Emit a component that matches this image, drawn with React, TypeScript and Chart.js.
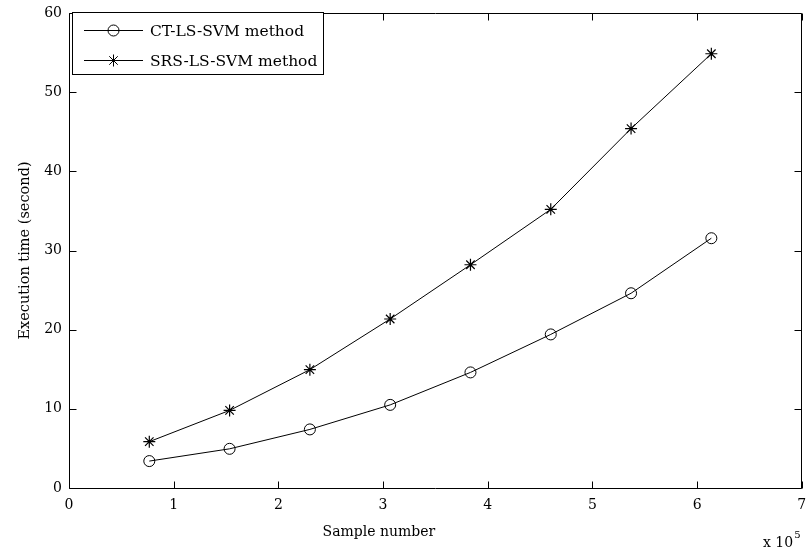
import React, { useEffect, useRef } from 'react';
import { Chart, registerables } from 'chart.js';

Chart.register(...registerables);

// Sample number (x 10^5)
const sampleNumbers = [0.767, 1.534, 2.301, 3.068, 3.835, 4.602, 5.369, 6.136];
// Execution time (second)
const ctTimes = [3.4, 4.95, 7.4, 10.5, 14.6, 19.4, 24.6, 31.55];
const srsTimes = [5.85, 9.8, 14.95, 21.35, 28.2, 35.2, 45.4, 54.85];

const seriesLabels = ['CT-LS-SVM method', 'SRS-LS-SVM method'];
const xTickValues = [0, 1, 2, 3, 4, 5, 6, 7];
const yTickValues = [0, 10, 20, 30, 40, 50, 60];
const xTitle = 'Sample number';
const yTitle = 'Execution time (second)';
const xExponentBase = 'x 10';
const xExponent = '5';

const FONT = '"DejaVu Serif", "Liberation Serif", serif';

function drawMarker(ctx: CanvasRenderingContext2D, style: string, cx: number, cy: number, r: number) {
  ctx.beginPath();
  if (style === 'circle') {
    ctx.arc(cx, cy, r, 0, Math.PI * 2);
  } else {
    for (let i = 0; i < 4; i++) {
      const a = (i * Math.PI) / 4;
      ctx.moveTo(cx - Math.cos(a) * r, cy - Math.sin(a) * r);
      ctx.lineTo(cx + Math.cos(a) * r, cy + Math.sin(a) * r);
    }
  }
  ctx.stroke();
}

const framePlugin = {
  id: 'matlabFrame',
  afterDraw(chart: any) {
    const { ctx, chartArea, scales } = chart;
    const { left, right, top, bottom } = chartArea;
    const xs = scales.x;
    const ys = scales.y;
    const L = Math.round(left) + 0.5;
    const R = Math.round(right) - 0.5;
    const T = Math.round(top) + 0.5;
    const B = Math.round(bottom) + 0.5;
    ctx.save();
    ctx.strokeStyle = '#000';
    ctx.lineWidth = 1;
    ctx.beginPath();
    ctx.rect(L, T, R - L, B - T);
    ctx.stroke();
    const tl = 7;
    ctx.beginPath();
    xTickValues.forEach((v) => {
      const px = Math.round(xs.getPixelForValue(v)) + 0.5;
      ctx.moveTo(px, B);
      ctx.lineTo(px, B - tl);
      ctx.moveTo(px, T);
      ctx.lineTo(px, T + tl);
    });
    yTickValues.forEach((v) => {
      const py = Math.round(ys.getPixelForValue(v)) + 0.5;
      ctx.moveTo(L, py);
      ctx.lineTo(L + tl, py);
      ctx.moveTo(R, py);
      ctx.lineTo(R - tl, py);
    });
    ctx.stroke();

    // Axis titles
    ctx.fillStyle = '#000';
    ctx.font = `14px ${FONT}`;
    ctx.textAlign = 'center';
    ctx.textBaseline = 'alphabetic';
    ctx.fillText(xTitle, xs.getPixelForValue(2.96), 536);

    ctx.save();
    ctx.translate(25, (top + bottom) / 2);
    ctx.rotate(-Math.PI / 2);
    ctx.textBaseline = 'middle';
    ctx.font = `14.5px ${FONT}`;
    ctx.fillText(yTitle, 0, 0);
    ctx.restore();

    // x 10^5
    ctx.textAlign = 'left';
    ctx.font = `14px ${FONT}`;
    ctx.fillText(xExponentBase, 763, 547);
    const w = ctx.measureText(xExponentBase).width;
    ctx.font = `10px ${FONT}`;
    ctx.fillText(xExponent, 763 + w + 1, 538);

    // Legend
    const bx = 72.5, by = 12.5, bw = 251, bh = 62;
    ctx.fillStyle = '#fff';
    ctx.fillRect(bx, by, bw, bh);
    ctx.strokeRect(bx, by, bw, bh);
    const styles = ['circle', 'star'];
    const radii = [5.5, 6];
    const rowsY = [30.5, 60.5];
    ctx.font = `15.5px ${FONT}`;
    ctx.textBaseline = 'middle';
    ctx.textAlign = 'left';
    seriesLabels.forEach((label, i) => {
      const yy = rowsY[i];
      ctx.beginPath();
      ctx.moveTo(84, yy);
      ctx.lineTo(143, yy);
      ctx.stroke();
      drawMarker(ctx, styles[i], 113.5, yy, radii[i]);
      ctx.fillStyle = '#000';
      ctx.fillText(label, 150, yy + 1);
    });
    ctx.restore();
  },
};

export default function App() {
  const ref = useRef<HTMLCanvasElement>(null);
  useEffect(() => {
    const canvas = ref.current!;
    const chart = new Chart(canvas, {
      type: 'line',
      data: {
        datasets: [
          {
            label: seriesLabels[0],
            data: sampleNumbers.map((x, i) => ({ x, y: ctTimes[i] })),
            borderColor: '#000',
            borderWidth: 1,
            pointStyle: 'circle',
            pointRadius: 5.5,
            pointBorderWidth: 1,
            pointBorderColor: '#000',
            pointBackgroundColor: 'rgba(0,0,0,0)',
            tension: 0,
          },
          {
            label: seriesLabels[1],
            data: sampleNumbers.map((x, i) => ({ x, y: srsTimes[i] })),
            borderColor: '#000',
            borderWidth: 1,
            pointStyle: 'star',
            pointRadius: 6,
            pointBorderWidth: 1.2,
            pointBorderColor: '#000',
            pointBackgroundColor: 'rgba(0,0,0,0)',
            tension: 0,
          },
        ],
      },
      options: {
        animation: false,
        responsive: false,
        maintainAspectRatio: false,
        devicePixelRatio: 1,
        layout: { padding: { left: 0, top: 13, right: 1, bottom: 0 } },
        plugins: { legend: { display: false }, tooltip: { enabled: false } },
        scales: {
          x: {
            type: 'linear',
            min: 0,
            max: 7,
            grid: { display: false, drawTicks: false },
            border: { display: false },
            afterBuildTicks: (s: any) => {
              s.ticks = xTickValues.map((v) => ({ value: v }));
            },
            afterFit: (s: any) => {
              s.height = 551 - 488;
              s.paddingLeft = 0;
              s.paddingRight = 0;
            },
            ticks: {
              color: '#000',
              font: { family: FONT, size: 14 },
              padding: 9,
              maxRotation: 0,
            },
          },
          y: {
            type: 'linear',
            min: 0,
            max: 60,
            grid: { display: false, drawTicks: false },
            border: { display: false },
            afterBuildTicks: (s: any) => {
              s.ticks = yTickValues.map((v) => ({ value: v }));
            },
            afterFit: (s: any) => {
              s.width = 69;
              s.paddingTop = 0;
              s.paddingBottom = 0;
            },
            ticks: {
              color: '#000',
              font: { family: FONT, size: 14 },
              padding: 7,
            },
          },
        },
      },
      plugins: [framePlugin],
    });
    return () => chart.destroy();
  }, []);
  return (
    <div style={{ position: 'absolute', left: 0, top: 0, width: 809, height: 551, background: '#fff' }}>
      <canvas ref={ref} width={809} height={551} style={{ width: 809, height: 551, display: 'block' }} />
    </div>
  );
}
